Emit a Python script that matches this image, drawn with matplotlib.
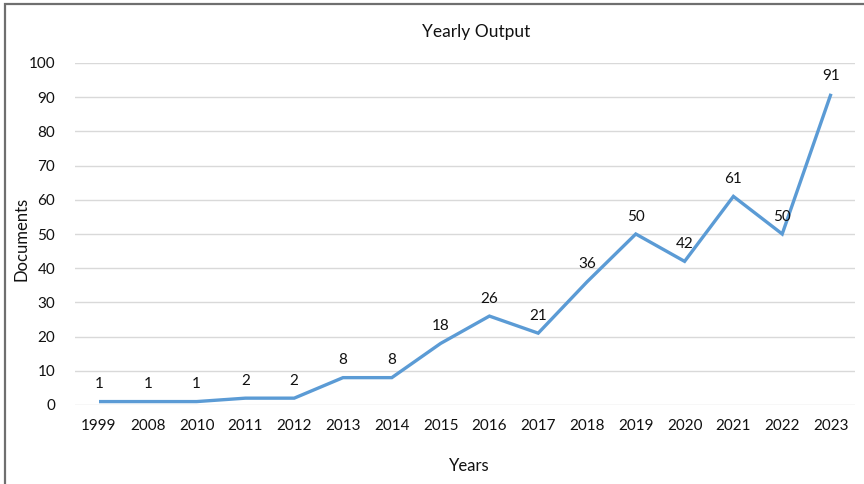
import matplotlib
matplotlib.use("Agg")
import matplotlib.pyplot as plt
from matplotlib.patches import Rectangle

years = ["1999", "2008", "2010", "2011", "2012", "2013", "2014", "2015",
         "2016", "2017", "2018", "2019", "2020", "2021", "2022", "2023"]
documents = [1, 1, 1, 2, 2, 8, 8, 18, 26, 21, 36, 50, 42, 61, 50, 91]
y_ticks = [0, 10, 20, 30, 40, 50, 60, 70, 80, 90, 100]

plt.rcParams['font.family'] = ['Lato', 'DejaVu Sans']

W, H = 864, 484
fig = plt.figure(figsize=(W / 100, H / 100), dpi=100)
ax = fig.add_axes([74.6 / W, 1 - 405 / H, (855.4 - 74.6) / W, (405 - 63) / H])

x = list(range(len(years)))
ax.plot(x, documents, color="#5B9BD5", linewidth=2.4, solid_capstyle="butt",
        solid_joinstyle="miter", zorder=3)
for xi, v in zip(x, documents):
    ax.annotate(str(v), (xi, v), xytext=(0, 7.5), textcoords="offset points",
                ha="center", va="bottom", fontsize=11, color="#111111")

ax.set_xlim(-0.5, len(years) - 0.5)
ax.set_ylim(0, 100)
ax.set_xticks(x)
ax.set_xticklabels(years)
ax.set_yticks(y_ticks)
ax.tick_params(axis="both", length=0, labelsize=11, colors="#111111")
ax.tick_params(axis="x", pad=10)
ax.tick_params(axis="y", pad=14)
ax.grid(axis="y", color="#D9D9D9", linewidth=1.0)
ax.set_axisbelow(True)
for s in ax.spines.values():
    s.set_visible(False)

fig.text(476 / W, 1 - 32 / H, "Yearly Output", ha="center", va="center",
         fontsize=12.5, color="#111111")
fig.text(469 / W, 1 - 466 / H, "Years", ha="center", va="center",
         fontsize=12, color="#111111")
fig.text(22 / W, 1 - 239 / H, "Documents", ha="center", va="center",
         rotation=90, fontsize=12, color="#111111")

# outer frame, open to the right and bottom
fig.add_artist(Rectangle((5 / W, -0.1), 1.2, 1 - 4 / H + 0.1,
                         transform=fig.transFigure, fill=False,
                         edgecolor="#6f6f6f", linewidth=1.6))

fig.savefig("out.png", dpi=100)
